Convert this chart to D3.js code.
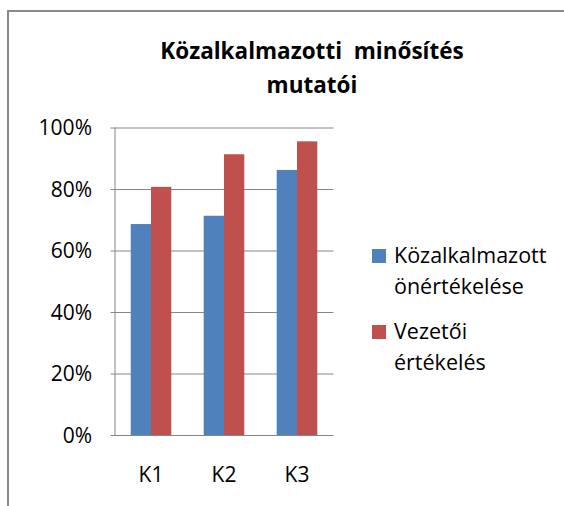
<!DOCTYPE html>
<html>
<head>
<meta charset="utf-8">
<script src="https://cdn.jsdelivr.net/npm/d3@7"></script>
<style>
  body { margin: 0; background: #fff; }
  text { font-family: 'Open Sans', 'Noto Sans', sans-serif; fill: #000; }
</style>
</head>
<body>
<div class="graphic"></div>
<script>
const categories = ['K1', 'K2', 'K3'];
const seriesNames = ['Közalkalmazott önértékelése', 'Vezetői értékelés'];
const selfValues = [68.6, 71.3, 86.2];
const leaderValues = [80.7, 91.3, 95.5];
const yTicks = [0, 20, 40, 60, 80, 100];
const titleLines = ['Közalkalmazotti  minősítés', 'mutatói'];
const legendLines = [['Közalkalmazott', 'önértékelése'], ['Vezetői', 'értékelés']];

const colors = ['#4f81bd', '#c0504d'];
const width = 564, height = 506;
const plot = { left: 114.5, right: 333.5, top: 127.5, bottom: 435 };

const svg = d3.select('.graphic')
  .append('svg')
  .attr('width', width)
  .attr('height', height);

// outer frame (clipped at right/bottom in the original)
svg.append('path')
  .attr('d', 'M8,' + height + ' V11 H' + width)
  .style('fill', 'none')
  .style('stroke', '#898989')
  .style('stroke-width', 2);

// title
svg.append('g').selectAll('text')
  .data(titleLines)
  .enter().append('text')
  .attr('x', 312)
  .attr('y', function (d, i) { return 59 + i * 34; })
  .attr('text-anchor', 'middle')
  .style('font-weight', 'bold')
  .style('font-size', '22.5px')
  .style('white-space', 'pre')
  .text(function (d) { return d; });

const y = d3.scaleLinear()
  .domain([0, 100])
  .range([plot.bottom, plot.top]);

const x = d3.scaleBand()
  .domain(categories)
  .range([plot.left, plot.right])
  .paddingInner(0.444)
  .paddingOuter(0.222);

const xs = d3.scaleBand()
  .domain([0, 1])
  .range([0, x.bandwidth()]);

// gridlines
svg.append('g').selectAll('line')
  .data(yTicks.filter(function (d) { return d > 0; }))
  .enter().append('line')
  .attr('x1', plot.left - 4)
  .attr('x2', plot.right)
  .attr('y1', function (d) { return y(d) + 0.5; })
  .attr('y2', function (d) { return y(d) + 0.5; })
  .style('stroke', '#868686')
  .style('stroke-width', 1);

// bars
const table = categories.map(function (c, i) {
  return { cat: c, vals: [selfValues[i], leaderValues[i]] };
});

const groups = svg.append('g').selectAll('g')
  .data(table)
  .enter().append('g')
  .attr('transform', function (d) { return 'translate(' + x(d.cat) + ',0)'; });

groups.selectAll('rect')
  .data(function (d) { return d.vals; })
  .enter().append('rect')
  .attr('x', function (d, i) { return xs(i); })
  .attr('y', function (d) { return y(d); })
  .attr('width', xs.bandwidth())
  .attr('height', function (d) { return y(0) - y(d); })
  .style('fill', function (d, i) { return colors[i]; });

// axes lines
svg.append('line')
  .attr('x1', plot.left + 0.5).attr('x2', plot.left + 0.5)
  .attr('y1', plot.top).attr('y2', plot.bottom + 0.5)
  .style('stroke', '#868686');
svg.append('line')
  .attr('x1', plot.left - 4).attr('x2', plot.right)
  .attr('y1', plot.bottom + 0.5).attr('y2', plot.bottom + 0.5)
  .style('stroke', '#868686');

// y labels
svg.append('g').selectAll('text')
  .data(yTicks)
  .enter().append('text')
  .attr('x', 92)
  .attr('y', function (d) { return y(d); })
  .attr('dy', '0.36em')
  .attr('text-anchor', 'end')
  .style('font-size', '21px')
  .text(function (d) { return d + '%'; });

// x labels
svg.append('g').selectAll('text')
  .data(categories)
  .enter().append('text')
  .attr('x', function (d) { return x(d) + x.bandwidth() / 2; })
  .attr('y', 482)
  .attr('text-anchor', 'middle')
  .style('font-size', '21px')
  .text(function (d) { return d; });

// legend
const legend = svg.append('g').selectAll('g')
  .data(seriesNames)
  .enter().append('g')
  .attr('transform', function (d, i) { return 'translate(372,' + (249 + i * 76) + ')'; });

legend.append('rect')
  .attr('width', 14)
  .attr('height', 14)
  .style('fill', function (d, i) { return colors[i]; });

legend.append('text')
  .attr('x', 22)
  .attr('y', 14)
  .style('font-size', '21.5px')
  .selectAll('tspan')
  .data(function (d, i) { return legendLines[i]; })
  .enter().append('tspan')
  .attr('x', 22)
  .attr('dy', function (d, i) { return i === 0 ? 0 : 31; })
  .text(function (d) { return d; });
</script>
</body>
</html>
